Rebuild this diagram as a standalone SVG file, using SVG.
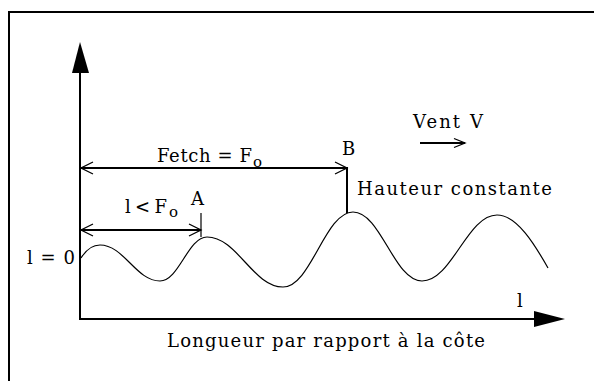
<svg xmlns="http://www.w3.org/2000/svg" width="594" height="381" viewBox="0 0 594 381">
<style>
text{font-family:"DejaVu Serif","Liberation Serif",serif;font-size:18px;fill:#000}
.sub{font-size:15px}
.ln{stroke:#000;stroke-width:2;fill:none}
.thin{stroke:#000;stroke-width:1.2;fill:none}
</style>
<defs>
<marker id="open" markerUnits="userSpaceOnUse" viewBox="-14 -8 16 16" refX="0" refY="0" markerWidth="16" markerHeight="16" orient="auto-start-reverse">
<path d="M-12,-6 L0,0 L-12,6" fill="none" stroke="#000" stroke-width="1.3"/>
</marker>
<marker id="open2" markerUnits="userSpaceOnUse" viewBox="-14 -8 16 16" refX="0" refY="0" markerWidth="16" markerHeight="16" orient="auto">
<path d="M-11,-4.5 L0,0 L-11,4.5" fill="none" stroke="#000" stroke-width="1.3"/>
</marker>
</defs>
<g id="frame">
<path class="ln" d="M9,381 V12 H594"/>
</g>
<g id="axes">
<path class="ln" d="M80,70 V319 H537"/>
<polygon points="80,42 72,73 89,73" fill="#000"/>
<polygon points="565,319 534,311 534,327" fill="#000"/>
</g>
<g id="wave">
<path class="thin" stroke-width="1" d="M81,258 C86,250 92,245 100,245 C124,245 136,281 160,281 C179,281 188,237 207,237 C237,237 253,287 283,287 C311,287 325,212 353,212 C381,212 394,281 422,281 C452,281 467,215 497,215 C517,215 535,245 548,268"/>
</g>
<g id="connectors">
<path class="ln" d="M81,168 H347" marker-start="url(#open)" marker-end="url(#open)"/>
<path class="ln" d="M347,167 V213"/>
<path class="ln" d="M81,230 H201" marker-start="url(#open)" marker-end="url(#open)"/>
<path class="thin" d="M201,213 V237"/>
<path class="ln" d="M420,143 H465" marker-end="url(#open2)"/>
</g>
<g id="labels">
<text x="157" y="162" textLength="95" lengthAdjust="spacing">Fetch = F</text>
<text class="sub" x="253" y="167">o</text>
<text x="342" y="155">B</text>
<text x="413" y="128" textLength="70" lengthAdjust="spacing">Vent V</text>
<text x="357" y="195" textLength="195" lengthAdjust="spacing">Hauteur constante</text>
<text x="125" y="213" textLength="42" lengthAdjust="spacing">l &lt; F</text>
<text class="sub" x="169" y="217">o</text>
<text x="191" y="205">A</text>
<text x="27" y="264" textLength="48" lengthAdjust="spacing">l = 0</text>
<text x="517" y="307">l</text>
<text x="167" y="347" textLength="318" lengthAdjust="spacing">Longueur par rapport à la côte</text>
</g>
</svg>
